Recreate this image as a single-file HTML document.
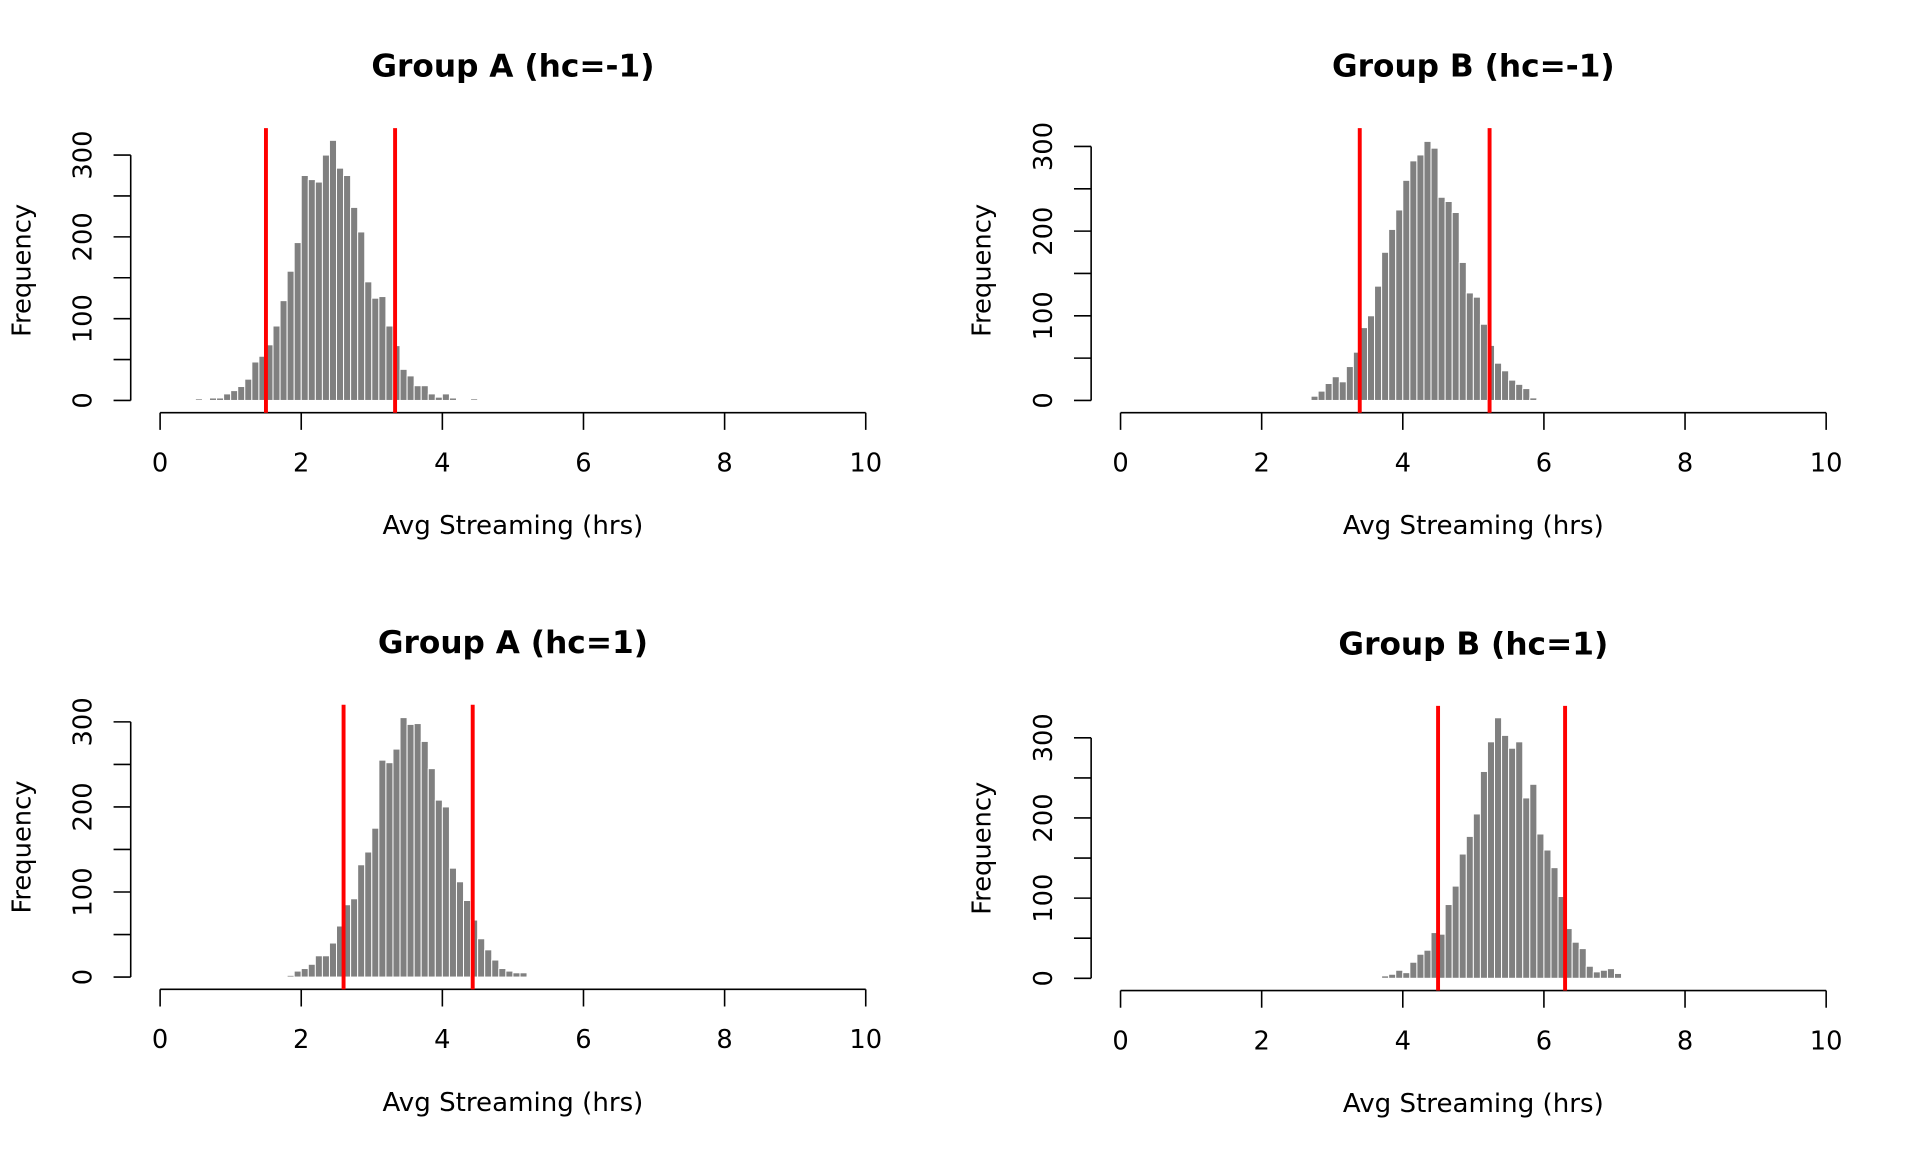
<!DOCTYPE html>
<html><head><meta charset="utf-8"><style>
html,body{margin:0;padding:0;background:#fff;}
svg{display:block;}
text{font-family:"DejaVu Sans","Liberation Sans",sans-serif;fill:#000;}
</style></head><body>
<svg id="s" width="1920" height="1152" viewBox="-0.7 1.6 1567.3 939" preserveAspectRatio="none" xmlns="http://www.w3.org/2000/svg"></svg>
<script>
const panels=[
 {title:"Group A (hc=-1)",x0:130,y0:328,y300:128,red:[1.5,3.33],start:0.5,
  h:[2,0,3,3,8,12,17,26,47,54,68,91,122,158,193,275,270,267,300,318,284,275,236,206,145,125,127,91,67,38,30,18,18,8,4,8,3,0,0,2]},
 {title:"Group B (hc=-1)",x0:914,y0:328,y300:121,red:[3.39,5.23],start:2.6,
  h:[1,5,11,20,28,22,40,57,86,100,135,175,202,225,260,283,290,306,298,240,235,222,163,127,122,90,65,44,35,24,19,14,3,1]},
 {title:"Group A (hc=1)",x0:130,y0:798,y300:590,red:[2.6,4.43],start:1.6,
  h:[1,1,2,7,10,15,25,25,40,60,85,92,132,147,175,255,252,268,305,297,298,277,245,208,200,128,112,90,67,45,32,20,10,7,5,5,1]},
 {title:"Group B (hc=1)",x0:914,y0:799,y300:603,red:[4.5,6.3],start:3.4,
  h:[1,0,0,3,5,10,7,20,30,35,57,55,92,115,155,177,205,258,295,325,303,287,295,225,242,180,160,138,102,62,45,37,15,8,10,12,6]}
];
let o="";
for(const p of panels){
 const ux=57.6, sy=(p.y0-p.y300)/300;
 const X=v=>p.x0+v*ux, Y=v=>p.y0-v*sy;
 const axY=p.y0+10, top=p.y0-222;
 const cx=p.x0+288;
 o+=`<text x="${cx}" y="${p.y0-264}" text-anchor="middle" font-size="25.5" font-weight="bold">${p.title}</text>`;
 p.h.forEach((v,i)=>{ if(v<=0)return; const a=X(p.start+i*0.1);
  o+=`<rect x="${a}" y="${Y(v)}" width="${ux*0.1}" height="${v*sy}" fill="#808080" stroke="#fff" stroke-width="0.8"/>`;});
 o+=`<line x1="${X(0)}" y1="${axY}" x2="${X(10)}" y2="${axY}" stroke="#000" stroke-width="1.3"/>`;
 for(let t=0;t<=10;t+=2){o+=`<line x1="${X(t)}" y1="${axY}" x2="${X(t)}" y2="${axY+14}" stroke="#000" stroke-width="1.3"/>`;
  o+=`<text x="${X(t)}" y="${axY+48}" text-anchor="middle" font-size="21">${t}</text>`;}
 const ax=106+p.x0-130;
 o+=`<line x1="${ax}" y1="${Y(0)}" x2="${ax}" y2="${Y(300)}" stroke="#000" stroke-width="1.3"/>`;
 for(let t=0;t<=300;t+=50){o+=`<line x1="${ax-14}" y1="${Y(t)}" x2="${ax}" y2="${Y(t)}" stroke="#000" stroke-width="1.3"/>`;}
 for(let t=0;t<=300;t+=100){const lx=p.x0-130+74;o+=`<text x="${lx}" y="${Y(t)}" text-anchor="middle" font-size="21" transform="rotate(-90 ${lx} ${Y(t)})">${t}</text>`;}
 const fx=p.x0-130+24, fy=p.y0-106;
 o+=`<text x="${fx}" y="${fy}" text-anchor="middle" font-size="21" transform="rotate(-90 ${fx} ${fy})">Frequency</text>`;
 o+=`<text x="${cx}" y="${p.y0+109}" text-anchor="middle" font-size="21.3">Avg Streaming (hrs)</text>`;
 for(const r of p.red){o+=`<line x1="${X(r)}" y1="${top}" x2="${X(r)}" y2="${axY}" stroke="#ff0000" stroke-width="3.2"/>`;}
}
document.getElementById("s").innerHTML=o;
</script>
</body></html>
